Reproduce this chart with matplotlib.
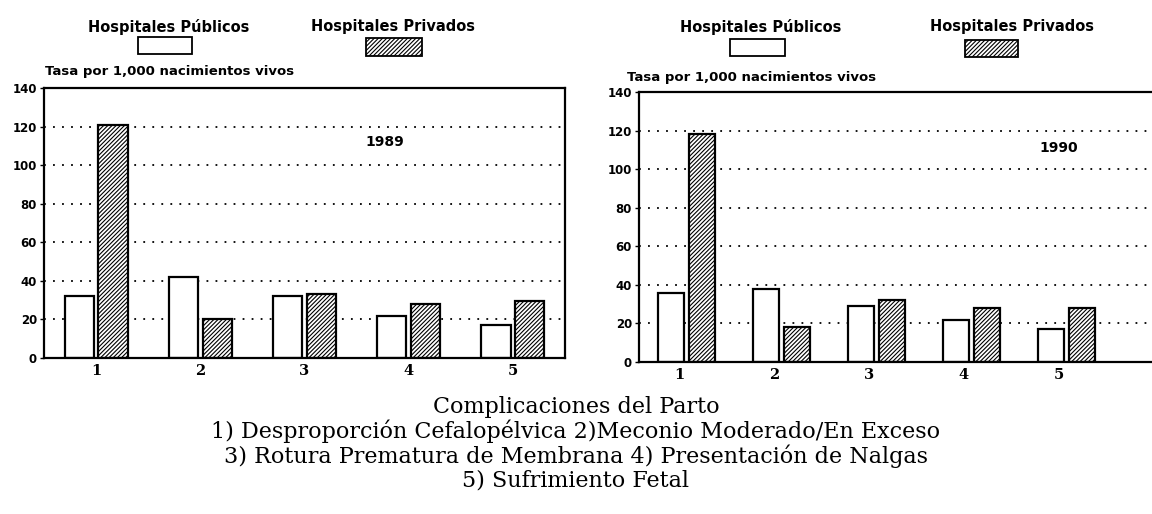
import matplotlib
matplotlib.use("Agg")
import matplotlib.pyplot as plt
from matplotlib.patches import Rectangle
import numpy as np

# datos
categorias = ["1", "2", "3", "4", "5"]
publicos_1989 = [32, 42, 32, 22, 17]
privados_1989 = [121, 20, 33, 28, 29.5]
publicos_1990 = [36, 38, 29, 22, 17]
privados_1990 = [118, 18, 32, 28, 28]
y_ticks = [0, 20, 40, 60, 80, 100, 120, 140]

leyenda = ["Hospitales Públicos", "Hospitales Privados"]
ylabel = "Tasa por 1,000 nacimientos vivos"
notas = ["Complicaciones del Parto",
         "1) Desproporción Cefalopélvica 2)Meconio Moderado/En Exceso",
         "3) Rotura Prematura de Membrana 4) Presentación de Nalgas",
         "5) Sufrimiento Fetal"]

plt.rcParams['hatch.linewidth'] = 0.8

fig = plt.figure(figsize=(11.52, 5.14), dpi=100)

W, H = 1152.0, 514.0
HATCH = "////////"


def px_box(x0, y0, x1, y1):
    # caja en pixeles -> coordenadas de figura
    return [x0 / W, 1 - y1 / H, (x1 - x0) / W, (y1 - y0) / H]


def draw_panel(rect, pub, priv, year, year_pos, xlim, tick_shift, show_right):
    ax = fig.add_axes(rect)
    x = np.arange(1, len(categorias) + 1)
    w = 0.28
    off = 0.162
    for yv in y_ticks[1:-1]:
        ax.axhline(yv, color="black", lw=1.3, ls=(0, (1, 4)), zorder=1)
    ax.bar(x - off, pub, w, color="white", edgecolor="black", lw=1.6, zorder=2)
    ax.bar(x + off, priv, w, color="white", edgecolor="black", lw=1.6,
           hatch=HATCH, zorder=2)
    ax.set_xlim(*xlim)
    ax.set_ylim(0, 140)
    ax.set_yticks(y_ticks)
    ax.set_yticklabels([str(v) for v in y_ticks], fontsize=8.5, fontweight="bold")
    ax.set_xticks(x + tick_shift)
    ax.set_xticklabels(categorias, fontsize=10.5, fontweight="bold", family="DejaVu Serif")
    ax.tick_params(axis="x", length=0, pad=4)
    ax.tick_params(axis="y", length=3, width=1, pad=2)
    for s in ["left", "bottom", "top", "right"]:
        ax.spines[s].set_linewidth(1.6)
    ax.spines["right"].set_visible(show_right)
    ax.text(year_pos[0], year_pos[1], year, fontsize=10, fontweight="bold",
            ha="center", va="center")
    return ax


draw_panel(px_box(44, 88, 565, 358), publicos_1989, privados_1989, "1989",
           (3.77, 112), (0.5, 5.5), 0.0, True)
draw_panel(px_box(639, 92, 1152, 362), publicos_1990, privados_1990, "1990",
           (4.92, 111), (0.5, 5.9), -0.08, False)

# leyendas dibujadas a mano como en el original
legend_layout = [
    # (texto x centro, y, caja x0, x1, y0, y1)
    [(169, 27, (138, 192, 37, 54)), (393, 27, (366, 422, 38, 56))],
    [(761, 27, (730, 785, 39, 56)), (1012, 27, (965, 1018, 40, 57))],
]
for panel in legend_layout:
    for i, (tx, ty, (bx0, bx1, by0, by1)) in enumerate(panel):
        fig.text(tx / W, 1 - ty / H, leyenda[i], fontsize=10.5, fontweight="bold",
                 ha="center", va="center")
        r = Rectangle((bx0 / W, 1 - by1 / H), (bx1 - bx0) / W, (by1 - by0) / H,
                      transform=fig.transFigure, facecolor="white",
                      edgecolor="black", lw=1.3,
                      hatch=HATCH if i == 1 else None)
        fig.add_artist(r)

fig.text(45 / W, 1 - 72 / H, ylabel, fontsize=9.5, fontweight="bold",
         ha="left", va="center")
fig.text(627 / W, 1 - 78 / H, ylabel, fontsize=9.5, fontweight="bold",
         ha="left", va="center")

for i, line in enumerate(notas):
    fig.text(0.5, 1 - (407 + 24.5 * i) / H, line, fontsize=16,
             family="DejaVu Serif", ha="center", va="center")

fig.savefig("out.png", dpi=100)
